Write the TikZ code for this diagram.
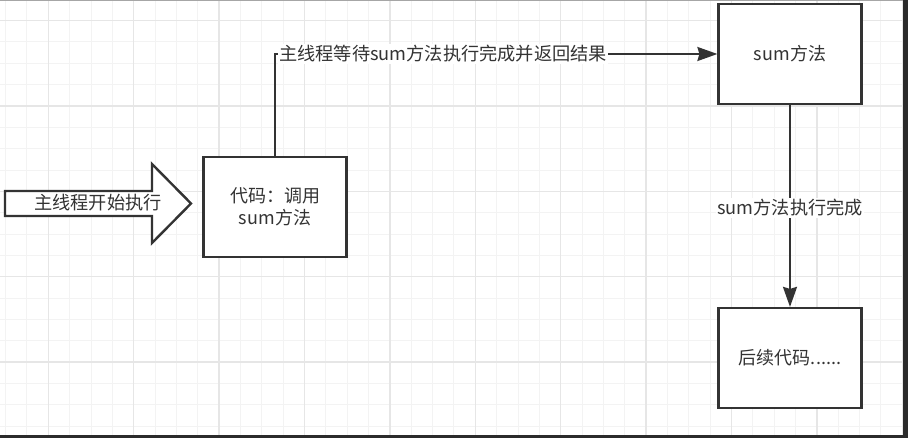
\documentclass[tikz,border=0pt]{standalone}
\usepackage{fontspec}
\usepackage{tikz}
\usepackage{xcolor}
\usetikzlibrary{arrows.meta,positioning}
\newfontfamily\cjk{Noto Sans CJK SC}
\definecolor{ink}{HTML}{333333}
\definecolor{txt}{HTML}{333333}
\definecolor{gridfine}{HTML}{F3F3F3}
\definecolor{gridbold}{HTML}{E6E6E6}
\definecolor{frame}{HTML}{2B2B2B}
\tikzset{
  stepcard/.style={draw=ink,fill=white,line width=2.2pt,
                   minimum width=143pt,minimum height=100pt,
                   align=center,inner sep=2pt,text=txt,
                   font=\cjk\fontsize{18}{22}\selectfont},
  edgelbl/.style={fill=white,inner sep=1pt,text=txt,
                  font=\cjk\fontsize{18.2}{22}\selectfont},
  flowarr/.style={-{Stealth[length=20pt,width=14pt,inset=2pt]},line width=2pt,color=ink},
  bigarrow/.style={draw=ink,fill=white,line width=2.4pt,line join=miter}
}

\begin{document}
\begin{tikzpicture}[x=1pt,y=-1pt]
  \useasboundingbox (0,0) rectangle (908,438);
  % background grid
  \foreach \i in {0,...,42} \draw[gridfine,line width=1pt] (5.6+21.35*\i,0) -- ++(0,438);
  \foreach \j in {1,...,20} \draw[gridfine,line width=1pt] (0,-0.75+21.35*\j) -- ++(908,0);
  \foreach \i in {2,6,...,42} \draw[gridbold,line width=1.4pt] (5.6+21.35*\i,0) -- ++(0,438);
  \foreach \j in {1,5,...,17} \draw[gridbold,line width=1.4pt] (0,-0.75+21.35*\j) -- ++(908,0);
  % window frame
  \draw[gray!70,line width=1pt] (0,0.5) -- (903,0.5);
  \fill[frame] (903,0) rectangle (908,438);
  \fill[frame] (0,435) rectangle (908,438);

  % start arrow
  \draw[bigarrow] (5,191) -- (152,191) -- (152,164) -- (191,203.5)
    -- (152,243) -- (152,216) -- (5,216) -- cycle;
  \node[edgelbl,fill=none] (startlbl) at (98,203) {主线程开始执行};

  \node[stepcard] (call) at (275,207) {代码：调用\\sum方法};
  \node[stepcard] (sum) at (790,54) {sum方法};
  \node[stepcard] (after) at (790,358) {后续代码......};

  \draw[flowarr] (call.north) |- node[edgelbl,pos=0.69] (waitlbl) {主线程等待sum方法执行完成并返回结果} (sum.west);
  \draw[flowarr] (sum.south) -- node[edgelbl,pos=0.51] (donelbl) {sum方法执行完成} (after.north);
\end{tikzpicture}
\end{document}
